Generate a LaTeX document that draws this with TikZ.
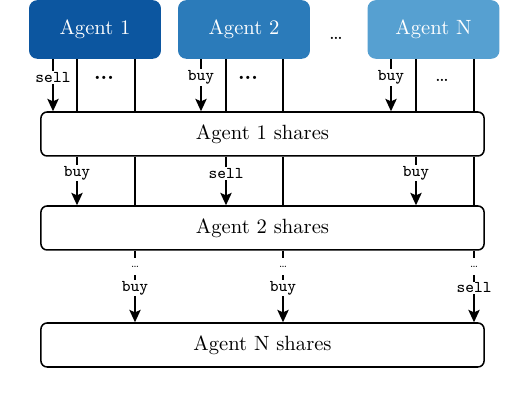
\documentclass[tikz,border=0pt]{standalone}
\usetikzlibrary{arrows.meta}

\begin{document}
\begin{tikzpicture}[x=0.01706cm, y=-0.01706cm,
    agent/.style={rounded corners=4pt, text=white, minimum width=2.25cm, minimum height=1.0cm, inner sep=0pt},
    shares/.style={draw, rounded corners=3pt, line width=0.75pt, fill=white, minimum width=7.56cm, minimum height=0.75cm},
    lbl/.style={fill=white, inner sep=0.6pt, font=\footnotesize\ttfamily},
    flow/.style={line width=0.75pt},
    >={Stealth[length=6pt, width=5.5pt, inset=1.2pt]}]
    % Define colours of the agents
    \definecolor{agentOne}{HTML}{0C56A0}
    \definecolor{agentTwo}{HTML}{2B7BBA}
    \definecolor{agentLast}{HTML}{56A0D1}

    % Fix the margins
    \useasboundingbox (0,0) rectangle (530,402);

    % Agents
    \node[agent, fill=agentOne] (a1) at (95,29.5) {Agent 1};
    \node[agent, fill=agentTwo] (a2) at (244,29.5) {Agent 2};
    \node[agent, fill=agentLast] (aN) at (433.5,29.5) {Agent N};
    \node (gap) at (336,38) {\ldots};

    % Share registers
    \node[shares] (s1) at (262.5,134) {Agent 1 shares};
    \node[shares] (s2) at (262.5,228) {Agent 2 shares};
    \node[shares] (sN) at (262.5,345) {Agent N shares};

    % Columns of each agent
    \coordinate (c11) at (53,0);
    \coordinate (c12) at (77,0);
    \coordinate (c13) at (135,0);
    \coordinate (c21) at (201,0);
    \coordinate (c22) at (226,0);
    \coordinate (c23) at (283,0);
    \coordinate (cN1) at (391,0);
    \coordinate (cN2) at (416,0);
    \coordinate (cN3) at (474,0);

    % Orders on Agent 1 shares
    \foreach \a/\c/\t in {a1/c11/sell, a2/c21/buy, aN/cN1/buy}
        \draw[flow,->] (\a.south -| \c) -- node[lbl, pos=0.35] {\t} (s1.north -| \c);
    \foreach \a/\c in {a1/c12, a1/c13, a2/c22, a2/c23, aN/cN2, aN/cN3}
        \draw[flow] (\a.south -| \c) -- (s1.north -| \c);

    % Orders on Agent 2 shares
    \foreach \c/\t in {c12/buy, c22/sell, cN2/buy}
        \draw[flow,->] (s1.south -| \c) -- node[lbl, pos=0.34] {\t} (s2.north -| \c);
    \foreach \c in {c13, c23, cN3}
        \draw[flow] (s1.south -| \c) -- (s2.north -| \c);

    % Orders on Agent N shares
    \foreach \c/\t in {c13/buy, c23/buy, cN3/sell}
        \draw[flow,->] (s2.south -| \c)
            -- node[fill=white, inner sep=0pt, minimum height=8pt, font=\tiny, pos=0.22] {\ldots}
               node[lbl, pos=0.52] {\t} (sN.north -| \c);

    % Remaining orders
    \node (d1) at (104,78) {\textbf{...}};
    \node (d2) at (248,78) {\textbf{...}};
    \node (dN) at (442,80) {\ldots};

\end{tikzpicture}
\end{document}
